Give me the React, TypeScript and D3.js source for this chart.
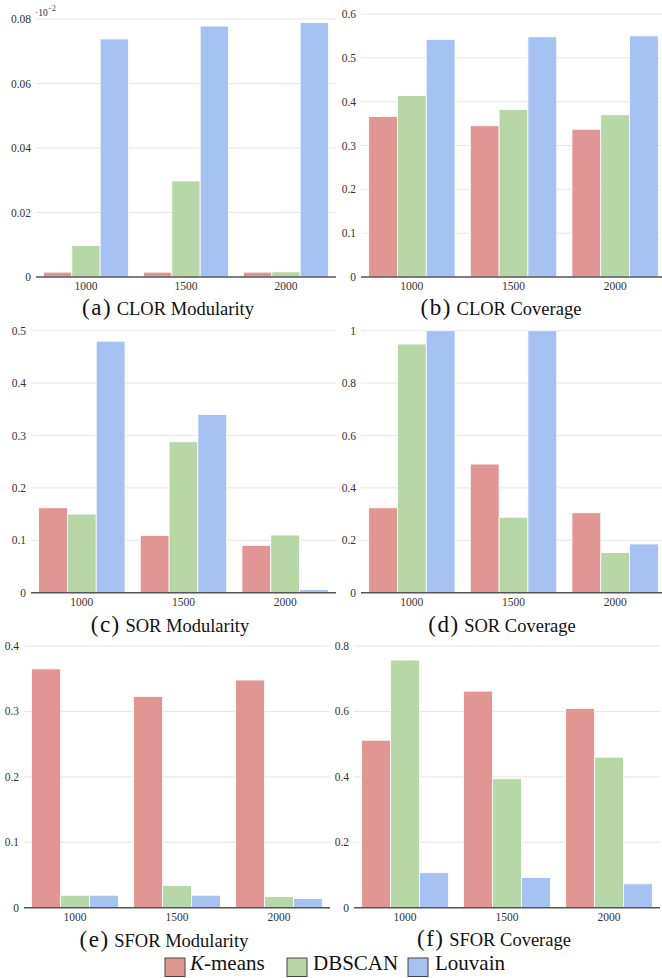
// Six grouped bar panels (clustering modularity / coverage) with a shared legend.
import * as d3 from "d3";

const CATEGORIES = ["1000", "1500", "2000"];
const SERIES = ["K-means", "DBSCAN", "Louvain"];
const COLORS = ["#e19694", "#b7d7a7", "#a5c2f3"];

// (a) CLOR Modularity (axis scaled by 10^-2)
const CLOR_MOD_KMEANS = [0.0015, 0.0015, 0.0015];
const CLOR_MOD_DBSCAN = [0.0098, 0.0298, 0.0016];
const CLOR_MOD_LOUVAIN = [0.0738, 0.0778, 0.0789];
const CLOR_MOD_TICKS = [0, 0.02, 0.04, 0.06, 0.08];

// (b) CLOR Coverage
const CLOR_COV_KMEANS = [0.366, 0.345, 0.337];
const CLOR_COV_DBSCAN = [0.414, 0.382, 0.37];
const CLOR_COV_LOUVAIN = [0.542, 0.548, 0.55];
const CLOR_COV_TICKS = [0, 0.1, 0.2, 0.3, 0.4, 0.5, 0.6];

// (c) SOR Modularity
const SOR_MOD_KMEANS = [0.162, 0.109, 0.09];
const SOR_MOD_DBSCAN = [0.15, 0.288, 0.11];
const SOR_MOD_LOUVAIN = [0.48, 0.34, 0.006];
const SOR_MOD_TICKS = [0, 0.1, 0.2, 0.3, 0.4, 0.5];

// (d) SOR Coverage
const SOR_COV_KMEANS = [0.324, 0.491, 0.305];
const SOR_COV_DBSCAN = [0.949, 0.288, 0.153];
const SOR_COV_LOUVAIN = [1.0, 1.0, 0.186];
const SOR_COV_TICKS = [0, 0.2, 0.4, 0.6, 0.8, 1];

// (e) SFOR Modularity
const SFOR_MOD_KMEANS = [0.365, 0.323, 0.348];
const SFOR_MOD_DBSCAN = [0.019, 0.034, 0.017];
const SFOR_MOD_LOUVAIN = [0.019, 0.019, 0.014];
const SFOR_MOD_TICKS = [0, 0.1, 0.2, 0.3, 0.4];

// (f) SFOR Coverage
const SFOR_COV_KMEANS = [0.512, 0.662, 0.609];
const SFOR_COV_DBSCAN = [0.757, 0.394, 0.46];
const SFOR_COV_LOUVAIN = [0.107, 0.092, 0.073];
const SFOR_COV_TICKS = [0, 0.2, 0.4, 0.6, 0.8];

type Panel = {
  tag: string;
  title: string;
  series: number[][];
  ticks: number[];
  left: number;
  right: number;
  top: number;
  bottom: number;
  capX: number;
  capY: number;
  scaleNote?: boolean;
};

const PANELS: Panel[] = [
  { tag: "(a)", title: "CLOR Modularity", series: [CLOR_MOD_KMEANS, CLOR_MOD_DBSCAN, CLOR_MOD_LOUVAIN], ticks: CLOR_MOD_TICKS, left: 36, right: 336, top: 19, bottom: 277, capX: 168, capY: 315, scaleNote: true },
  { tag: "(b)", title: "CLOR Coverage", series: [CLOR_COV_KMEANS, CLOR_COV_DBSCAN, CLOR_COV_LOUVAIN], ticks: CLOR_COV_TICKS, left: 361, right: 666, top: 14, bottom: 277, capX: 501, capY: 315 },
  { tag: "(c)", title: "SOR Modularity", series: [SOR_MOD_KMEANS, SOR_MOD_DBSCAN, SOR_MOD_LOUVAIN], ticks: SOR_MOD_TICKS, left: 31, right: 336, top: 330.7, bottom: 592.7, capX: 170, capY: 631.5 },
  { tag: "(d)", title: "SOR Coverage", series: [SOR_COV_KMEANS, SOR_COV_DBSCAN, SOR_COV_LOUVAIN], ticks: SOR_COV_TICKS, left: 361, right: 666, top: 330.7, bottom: 592.7, capX: 502, capY: 631.5 },
  { tag: "(e)", title: "SFOR Modularity", series: [SFOR_MOD_KMEANS, SFOR_MOD_DBSCAN, SFOR_MOD_LOUVAIN], ticks: SFOR_MOD_TICKS, left: 24, right: 330, top: 646, bottom: 907.7, capX: 164, capY: 946.5 },
  { tag: "(f)", title: "SFOR Coverage", series: [SFOR_COV_KMEANS, SFOR_COV_DBSCAN, SFOR_COV_LOUVAIN], ticks: SFOR_COV_TICKS, left: 354, right: 660, top: 646, bottom: 907.7, capX: 494, capY: 946 },
];

const FONT = "Liberation Serif";
const W = 662;
const H = 978;

function BarPanel({ p }: { p: Panel }) {
  const x0 = d3
    .scaleBand<string>()
    .domain(CATEGORIES)
    .range([p.left, p.right])
    .paddingInner(0.15)
    .paddingOuter(0.075);
  const x1 = d3.scaleBand<string>().domain(SERIES).range([0, x0.bandwidth()]);
  const y = d3
    .scaleLinear()
    .domain([0, p.ticks[p.ticks.length - 1]])
    .range([p.bottom, p.top]);

  return (
    <g>
      {/* grid */}
      {p.ticks.slice(1).map((t) => (
        <line key={"g" + t} x1={p.left} x2={p.right} y1={y(t)} y2={y(t)} stroke="#e6e6e6" strokeWidth={1} />
      ))}
      {p.ticks.map((t) => (
        <text key={"yl" + t} x={p.left - 5} y={y(t) + 4} textAnchor="end" fontFamily={FONT} fontSize={11.5} fill="#333">
          {String(t)}
        </text>
      ))}

      {/* bars */}
      {p.series.map((vals, si) =>
        vals.map((v, i) => (
          <rect
            key={`b${si}-${i}`}
            x={x0(CATEGORIES[i])! + x1(SERIES[si])!}
            y={y(v)}
            width={x1.bandwidth()}
            height={y(0) - y(v)}
            fill={COLORS[si]}
            stroke="#fff"
            strokeWidth={0.8}
          />
        )),
      )}

      <line x1={p.left} x2={p.right} y1={y(0)} y2={y(0)} stroke="#555" strokeWidth={1.5} />
      {CATEGORIES.map((c) => (
        <text key={"xl" + c} x={x0(c)! + x0.bandwidth() / 2} y={y(0) + 13} textAnchor="middle" fontFamily={FONT} fontSize={11.5} fill="#333">
          {c}
        </text>
      ))}

      {p.scaleNote && (
        <text x={p.left - 1} y={p.top - 3} fontFamily={FONT} fontSize={9.5} fill="#333">
          <tspan>·10</tspan>
          <tspan dy={-5} fontSize={7.5}>−2</tspan>
        </text>
      )}

      <text x={p.capX} y={p.capY} textAnchor="middle" fontFamily={FONT} fill="#111">
        <tspan fontSize={23} letterSpacing={1.5}>{p.tag}</tspan>
        <tspan fontSize={18.5}>{" " + p.title}</tspan>
      </text>
    </g>
  );
}

const LEG_BOX_X = [165, 287, 408];
const LEG_TEXT_X = [190, 313, 435];

export default function App() {
  return (
    <svg width={W} height={H} style={{ position: "absolute", left: 0, top: 0, display: "block" }}>
      <rect width={W} height={H} fill="#fff" />
      {PANELS.map((p) => (
        <BarPanel key={p.tag} p={p} />
      ))}
      {SERIES.map((s, i) => (
        <g key={s}>
          <rect x={LEG_BOX_X[i]} y={958} width={20} height={18.5} fill={COLORS[i]} stroke="#444" strokeWidth={1} />
          <text x={LEG_TEXT_X[i]} y={970} fontFamily={FONT} fontSize={21} fill="#111">
            {s === "K-means" ? (
              <>
                <tspan fontStyle="italic">K</tspan>
                <tspan>-means</tspan>
              </>
            ) : (
              s
            )}
          </text>
        </g>
      ))}
    </svg>
  );
}
